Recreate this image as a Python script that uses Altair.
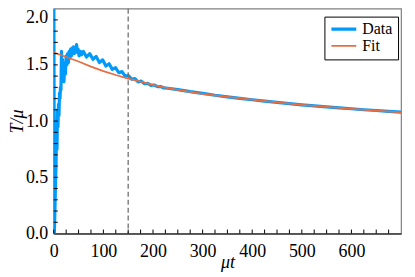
import altair as alt
import pandas as pd

# Data series (blue, oscillating)
data_t = [0, 1.2, 2.5, 3.5, 4.5, 5.5, 6.5, 7.5, 8.5, 9.5, 10.5, 11.5, 12.5, 13.5, 14.5,
          15.5, 16.5, 17.5, 18.5, 19.5, 20.5, 22, 23.5, 25, 26.5, 28, 29.5, 31, 32.5, 34,
          35.5, 37, 38.5, 40, 41.5, 43, 44.5, 46, 47.5, 49, 51, 53.5, 56, 59.5, 66, 72.5,
          79, 85.5, 92, 98.5, 105, 111.5, 118, 124.5, 131, 137.5, 144, 150.5, 157, 163.5,
          170, 176.5, 183, 189.5, 196, 202.5, 209, 215.5, 222, 230, 250, 275, 300, 325,
          350, 375, 400, 425, 450, 475, 500, 525, 550, 575, 600, 625, 650, 675, 700]
data_v = [2.4, 0.0, 0.25, 0.45, 0.6, 0.95, 0.75, 1.1, 0.95, 1.15, 1.05, 1.25, 1.2, 1.3, 1.28,
          1.62, 1.38, 1.55, 1.4, 1.5, 1.35, 1.52, 1.42, 1.58, 1.5, 1.6, 1.52, 1.62, 1.56, 1.64,
          1.58, 1.65, 1.6, 1.66, 1.6, 1.65, 1.62, 1.68, 1.61, 1.64, 1.58, 1.62, 1.59, 1.62, 1.57, 1.60,
          1.55, 1.575, 1.52, 1.545, 1.49, 1.51, 1.46, 1.475, 1.43, 1.44, 1.40, 1.405, 1.372, 1.378,
          1.349, 1.355, 1.332, 1.336, 1.318, 1.321, 1.306, 1.308, 1.295, 1.292, 1.28, 1.262, 1.247, 1.23,
          1.216, 1.202, 1.19, 1.177, 1.166, 1.155, 1.145, 1.135, 1.126, 1.117, 1.11, 1.101, 1.094, 1.086, 1.079]

# Fit series (orange)
fit_t = [0, 25, 50, 75, 100, 125, 150, 175, 200, 225, 250, 275, 300, 350, 400, 450, 500, 550, 600, 650, 700]
fit_v = [1.61, 1.57, 1.53, 1.485, 1.445, 1.41, 1.378, 1.35, 1.322, 1.298, 1.277, 1.259, 1.243,
         1.215, 1.19, 1.166, 1.145, 1.126, 1.109, 1.093, 1.078]

series_names = ["Data", "Fit"]
series_colors = ["#009AFA", "#E36F47"]
series_widths = [3.2, 1.8]

vline_t = [150]
x_labels = [0, 100, 200, 300, 400, 500, 600]
y_labels = [0.0, 0.5, 1.0, 1.5, 2.0]
x_ticks = [0, 25, 50, 75, 100, 125, 150, 175, 200, 225, 250, 275, 300, 325, 350, 375, 400,
           425, 450, 475, 500, 525, 550, 575, 600, 625, 650, 675]
y_ticks = [0.1, 0.2, 0.3, 0.4, 0.5, 0.6, 0.7, 0.8, 0.9, 1.0, 1.1, 1.2, 1.3, 1.4, 1.5,
           1.6, 1.7, 1.8, 1.9]

W, H = 349, 226
FONT = "Liberation Serif"

df = pd.concat([
    pd.DataFrame({"t": data_t, "v": data_v, "series": "Data"}),
    pd.DataFrame({"t": fit_t, "v": fit_v, "series": "Fit"}),
])

xscale = alt.Scale(domain=[0, 700], nice=False, zero=False)
yscale = alt.Scale(domain=[0, 2], nice=False)

x_axis = alt.Axis(
    values=x_labels, title="μt", grid=False, ticks=False, labelPadding=9, labelFlush=False,
    labelFont=FONT, labelFontSize=18, labelColor="black",
    titleFont=FONT, titleFontSize=18, titleColor="black", titleFontWeight="normal",
    titleFontStyle="italic", titleY=34, titleBaseline="alphabetic")
y_axis = alt.Axis(
    values=y_labels, format=".1f", title="T/μ", grid=False, ticks=False, labelPadding=6,
    labelFlush=False, labelFont=FONT, labelFontSize=18, labelColor="black",
    titleFont=FONT, titleFontSize=18, titleColor="black", titleFontWeight="normal",
    titleFontStyle="italic", titleX=-36, titleY=H / 2, titleBaseline="middle",
    labelBaseline={"condition": {"test": "datum.value == 2", "value": "top"}, "value": "middle"})

legend = alt.Legend(
    title=None, orient="none", legendX=272, legendY=8,
    strokeColor="black", fillColor="white", padding=5,
    symbolType="stroke", symbolSize=625, labelFont=FONT, labelFontSize=16,
    labelColor="black", labelOffset=4, clipHeight=15, rowPadding=0,
)

lines = alt.Chart(df).mark_line(clip=True, strokeJoin="round").encode(
    x=alt.X("t:Q", scale=xscale, axis=x_axis),
    y=alt.Y("v:Q", scale=yscale, axis=y_axis),
    color=alt.Color("series:N", scale=alt.Scale(domain=series_names, range=series_colors), legend=legend),
    strokeWidth=alt.StrokeWidth("series:N", scale=alt.Scale(domain=series_names, range=series_widths), legend=legend),
)

vline = alt.Chart(pd.DataFrame({"t": vline_t})).mark_rule(
    color="#707070", strokeDash=[5, 3], strokeWidth=1.3
).encode(x=alt.X("t:Q", scale=xscale, axis=x_axis))

xt = alt.Chart(pd.DataFrame({"t": x_ticks})).mark_rule(color="black", strokeWidth=1).encode(
    x=alt.X("t:Q", scale=xscale, axis=x_axis), y=alt.value(H), y2=alt.value(H - 4))
yt = alt.Chart(pd.DataFrame({"v": y_ticks})).mark_rule(color="black", strokeWidth=1).encode(
    y=alt.Y("v:Q", scale=yscale, axis=y_axis), x=alt.value(0), x2=alt.value(4))

chart = alt.layer(lines, vline, xt, yt).properties(
    width=W, height=H,
    autosize=alt.AutoSizeParams(type="none"),
    padding={"left": 46, "top": 0, "right": 6, "bottom": 38},
).configure(
    font=FONT
).configure_view(
    stroke="#808080", strokeWidth=1.2
).configure_axis(
    domainColor="black", domainWidth=1, labelFont=FONT, titleFont=FONT,
).configure_legend(
    labelFont=FONT
)

chart.save("out.html", embed_options={"renderer": "svg", "actions": False})
